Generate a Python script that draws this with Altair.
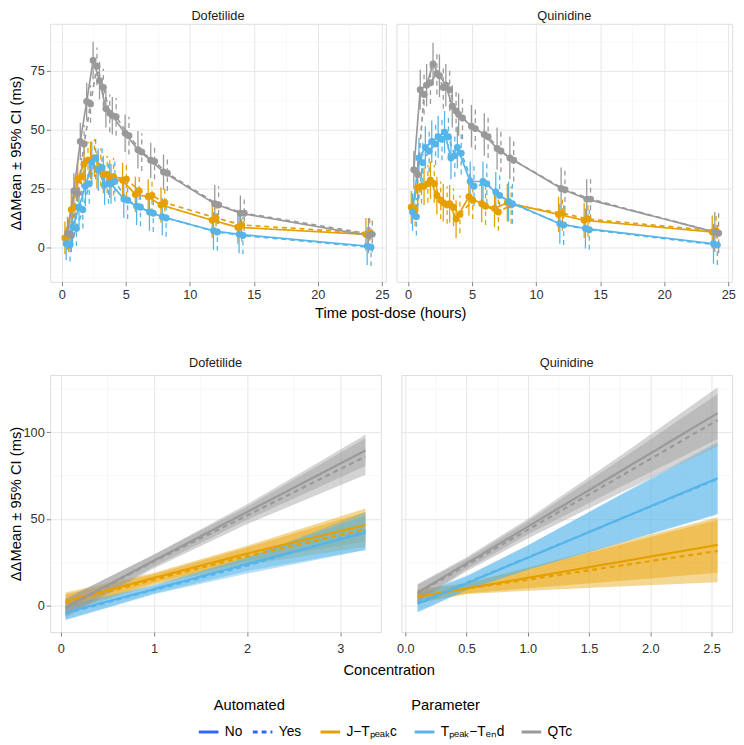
import altair as alt
import pandas as pd

FONT = "Liberation Sans"

# ---------------- categories ----------------
PARAMS = ["J−Tₚₑₐₖc", "Tₚₑₐₖ−Tₑₙd", "QTc"]
AUTOMATED = ["No", "Yes"]
COLORS = ["#E69F00", "#56B4E9", "#999999"]
DRUGS = ["Dofetilide", "Quinidine"]

# ---------------- time course (top row) ----------------
TIMES = [0.5, 1, 1.5, 2, 2.5, 3, 3.5, 4, 5, 6, 7, 8, 12, 14, 24]

DOF_J_NO = [4, 16, 29, 35.5, 37, 33, 31, 29, 28.5, 22.5, 21.5, 18, 11.5, 8.5, 5.5]
DOF_J_YES = [5, 17, 30, 37, 38, 34, 31, 30, 29, 24, 22, 19, 12.5, 9.5, 6]
DOF_J_CI = [7, 7.5, 8, 8, 8, 8, 8, 8, 7.5, 7.5, 7.5, 7.5, 7.5, 7, 7]
DOF_T_NO = [1.5, 8.5, 17, 26, 36, 33, 26.5, 27, 20.5, 17.5, 15, 13, 7, 5.5, 0.5]
DOF_T_YES = [1, 8, 16, 27, 38, 34, 27, 28, 20, 17, 14.5, 12.5, 6.5, 5, 0]
DOF_T_CI = [7, 7.5, 8, 8.5, 9, 9, 8.5, 8.5, 8, 8, 8, 8, 8, 8, 8]
DOF_Q_NO = [6, 24, 45, 62, 79.5, 71, 59, 56, 48.5, 41.5, 37, 32, 18.5, 14.5, 5]
DOF_Q_YES = [5, 23, 44, 61, 77, 68, 57, 55.5, 47.5, 40.5, 36.5, 31.5, 18, 14.5, 5.5]
DOF_Q_CI = [7, 7.5, 8, 8, 8, 8, 8, 8, 8, 8, 7.5, 7.5, 8, 7.5, 7.5]

QUI_J_NO = [17, 25.5, 26, 28.5, 22, 19, 18.5, 12, 21.5, 18.5, 16.5, 19, 14, 11.5, 6.5]
QUI_J_YES = [16, 26, 27, 27, 20, 18, 17, 14, 20, 17.5, 15, 18, 14.5, 12, 7]
QUI_J_CI = [7, 7.5, 8, 8, 8, 8, 8, 8, 8, 8, 8, 8, 7.5, 7.5, 7]
QUI_T_NO = [15, 38, 42.5, 45, 47, 49, 38, 42.5, 28, 28, 23.5, 19.5, 10, 8, 1.5]
QUI_T_YES = [13, 36, 41, 44, 46, 47, 39, 40, 26, 27, 22, 18.5, 9.5, 7.5, 1]
QUI_T_CI = [8, 8.5, 9, 9, 9, 9, 9, 9, 8.5, 8.5, 8.5, 8.5, 8.5, 8.5, 8.5]
QUI_Q_NO = [33, 67, 69, 78, 73, 69, 60, 56.5, 51.5, 48, 42, 38, 25, 20.5, 6.5]
QUI_Q_YES = [31, 65, 70, 74, 68, 67, 58, 55, 50.5, 47, 41, 37, 24.5, 20.5, 6]
QUI_Q_CI = [8, 8.5, 9, 9, 9, 9, 9, 9, 9, 9, 9, 9, 9, 8.5, 8.5]

# ---------------- concentration fits (bottom row) ----------------
DOF_CONC = [0.05, 1.0, 2.0, 3.27]
DOF_J_FIT_NO = [2.5, 16, 30, 46.5]
DOF_J_FIT_YES = [1.5, 15, 28.5, 44]
DOF_J_HW_NO = [5, 3, 4.5, 9.5]
DOF_J_HW_YES = [5, 3, 5, 10]
DOF_T_FIT_NO = [-4, 9.5, 24, 42]
DOF_T_FIT_YES = [-4.5, 9, 23, 43]
DOF_T_HW_NO = [4, 2.5, 4, 10]
DOF_T_HW_YES = [4, 2.5, 4.5, 11]
DOF_Q_FIT_NO = [-1, 26, 54, 89.5]
DOF_Q_FIT_YES = [-1.5, 25.5, 52, 86]
DOF_Q_HW_NO = [5, 3.5, 4.5, 9]
DOF_Q_HW_YES = [5.5, 4, 5, 10.5]

QUI_CONC = [0.1, 0.5, 1.0, 1.75, 2.55]
QUI_J_FIT_NO = [5, 9.9, 16, 25.2, 35]
QUI_J_FIT_YES = [5.5, 9.7, 15, 23, 31.5]
QUI_J_HW_NO = [4, 3, 6, 11, 16]
QUI_J_HW_YES = [4, 3, 6.5, 12, 18]
QUI_T_FIT_NO = [1, 12.8, 27.6, 49.8, 73.5]
QUI_T_FIT_YES = [1.5, 13.2, 27.8, 49.8, 73]
QUI_T_HW_NO = [5, 4, 7, 14, 21]
QUI_T_HW_YES = [5, 4, 7, 13.5, 20]
QUI_Q_FIT_NO = [7.5, 24.4, 45.5, 77.2, 111]
QUI_Q_FIT_YES = [7, 23.3, 43.7, 74.3, 107]
QUI_Q_HW_NO = [5, 3.5, 4.5, 9, 15]
QUI_Q_HW_YES = [5, 3.5, 5, 9.5, 15]

# dodge positions (position adjustment, No / Yes x Parameter)
DODGE = {("No", 0): -0.25, ("No", 1): -0.15, ("No", 2): -0.05,
         ("Yes", 0): 0.05, ("Yes", 1): 0.15, ("Yes", 2): 0.25}


def time_frame(series):
    rows = []
    for pi, (no, yes, ci) in enumerate(series):
        for auto, vals in (("No", no), ("Yes", yes)):
            for t, v, h in zip(TIMES, vals, ci):
                rows.append(dict(time=t, xd=t + DODGE[(auto, pi)], mean=v,
                                 lo=v - h, hi=v + h, param=PARAMS[pi], auto=auto))
    return pd.DataFrame(rows)


def conc_frame(conc, series):
    rows = []
    for pi, (fno, fyes, hno, hyes) in enumerate(series):
        for auto, fit, hw in (("No", fno, hno), ("Yes", fyes, hyes)):
            for c, v, h in zip(conc, fit, hw):
                rows.append(dict(conc=c, fit=v, lo=v - h, hi=v + h,
                                 param=PARAMS[pi], auto=auto, grp=f"{pi}{auto}"))
    return pd.DataFrame(rows)


dof_time = time_frame([(DOF_J_NO, DOF_J_YES, DOF_J_CI),
                       (DOF_T_NO, DOF_T_YES, DOF_T_CI),
                       (DOF_Q_NO, DOF_Q_YES, DOF_Q_CI)])
qui_time = time_frame([(QUI_J_NO, QUI_J_YES, QUI_J_CI),
                       (QUI_T_NO, QUI_T_YES, QUI_T_CI),
                       (QUI_Q_NO, QUI_Q_YES, QUI_Q_CI)])
dof_conc = conc_frame(DOF_CONC, [(DOF_J_FIT_NO, DOF_J_FIT_YES, DOF_J_HW_NO, DOF_J_HW_YES),
                                 (DOF_T_FIT_NO, DOF_T_FIT_YES, DOF_T_HW_NO, DOF_T_HW_YES),
                                 (DOF_Q_FIT_NO, DOF_Q_FIT_YES, DOF_Q_HW_NO, DOF_Q_HW_YES)])
qui_conc = conc_frame(QUI_CONC, [(QUI_J_FIT_NO, QUI_J_FIT_YES, QUI_J_HW_NO, QUI_J_HW_YES),
                                 (QUI_T_FIT_NO, QUI_T_FIT_YES, QUI_T_HW_NO, QUI_T_HW_YES),
                                 (QUI_Q_FIT_NO, QUI_Q_FIT_YES, QUI_Q_HW_NO, QUI_Q_HW_YES)])

# ---------------- styling ----------------
YTITLE = "ΔΔMean ± 95% CI (ms)"
MAJ = "#e6e6e6"
MINC = "#f3f3f3"
TICK = "#7f7f7f"
LABC = "#333333"

TOP_W, TOP_H = 342, 263
BOT_W, BOT_H = 337, 262


def mk_axis(values, test, labels=True, title=None, height=None, fmt=None, pad=2):
    kw = dict(values=values, domain=False, grid=True,
              gridColor={"condition": {"test": test, "value": MAJ}, "value": MINC},
              gridWidth={"condition": {"test": test, "value": 1}, "value": 0.6},
              labelFont=FONT, labelFontSize=13, labelColor=LABC,
              labelFlush=False, labelOverlap=False, labelPadding=pad,
              tickColor=TICK, tickSize=4, tickWidth=1)
    if labels:
        lab = "datum.label" if fmt is None else f"format(datum.value, '{fmt}')"
        kw.update(labelExpr=f"({test}) ? {lab} : ''",
                  tickOpacity={"condition": {"test": test, "value": 1}, "value": 0})
    else:
        kw.update(labels=False, ticks=False)
    if title:
        kw.update(title=title, titleFont=FONT, titleFontSize=15, titleFontWeight="normal",
                  titleColor="#000000", titleX=-27, titleY=height / 2, titleBaseline="bottom")
    else:
        kw.update(title=None)
    return alt.Axis(**kw)


param_legend = alt.Legend(title="Parameter", orient="none", legendX=274, legendY=687,
                          direction="horizontal", titleOrient="top", titleAnchor="middle",
                          symbolType="stroke", symbolStrokeWidth=3, symbolSize=400,
                          symbolOpacity=1, symbolDash=[1, 0],
                          labelFont=FONT, labelFontSize=14, labelColor="#000000",
                          titleFont=FONT, titleFontSize=15, titleFontWeight="normal",
                          titleColor="#000000", columnPadding=10, labelOffset=5, titlePadding=8)
auto_legend = alt.Legend(title="Automated", orient="none", legendX=150, legendY=687,
                         direction="horizontal", titleOrient="top", titleAnchor="middle",
                         symbolType="stroke", symbolStrokeWidth=3, symbolSize=400,
                         symbolStrokeColor="#3366FF", symbolOpacity=1,
                         labelFont=FONT, labelFontSize=14, labelColor="#000000",
                         titleFont=FONT, titleFontSize=15, titleFontWeight="normal",
                         titleColor="#000000", columnPadding=4, labelOffset=5, titlePadding=8)

stroke_scale = alt.Scale(domain=PARAMS, range=COLORS)
dash_scale = alt.Scale(domain=AUTOMATED, range=[[1, 0], [5, 4]])

TOP_X = [i * 2.5 for i in range(11)]
TOP_Y = [-12.5, 0, 12.5, 25, 37.5, 50, 62.5, 75, 87.5]
BOT_Y = [0, 25, 50, 75, 100, 125]


def panel_title(text, offset):
    return alt.TitleParams(text, fontSize=13, font=FONT, fontWeight="normal",
                           color="#1a1a1a", offset=offset)


def top_panel(df, title, left):
    xs = alt.Scale(domain=[-0.9, 25.3], nice=False, zero=False)
    ys = alt.Scale(domain=[-14.7, 95.1], nice=False, zero=False)
    xax = mk_axis(TOP_X, "datum.value % 5 === 0", pad=3)
    yax = mk_axis(TOP_Y, "datum.value % 25 === 0", labels=left,
                  title=YTITLE if left else None, height=TOP_H)
    x = alt.X("xd:Q", scale=xs, axis=xax)
    stroke = alt.Stroke("param:N", scale=stroke_scale, legend=param_legend)
    dash = alt.StrokeDash("auto:N", scale=dash_scale, legend=auto_legend)
    base = alt.Chart(df)
    err = base.mark_rule(strokeWidth=1.3).encode(
        x=x, y=alt.Y("lo:Q", scale=ys, axis=yax), y2="hi:Q", stroke=stroke, strokeDash=dash)
    line = base.mark_line(strokeWidth=1.7).encode(
        x=x, y=alt.Y("mean:Q", scale=ys, axis=yax), stroke=stroke, strokeDash=dash,
        order="xd:Q")
    pts = base.mark_circle(size=50, opacity=1).encode(
        x=x, y=alt.Y("mean:Q", scale=ys, axis=yax),
        fill=alt.Fill("param:N", scale=stroke_scale, legend=None))
    return alt.layer(err, line, pts).properties(width=TOP_W, height=TOP_H,
                                                title=panel_title(title, 1))


def bot_panel(df, title, left, xdom, xvals, test, fmt):
    xs = alt.Scale(domain=xdom, nice=False, zero=False)
    ys = alt.Scale(domain=[-15.3, 133], nice=False, zero=False)
    xax = mk_axis(xvals, test, fmt=fmt, pad=7)
    yax = mk_axis(BOT_Y, "datum.value % 50 === 0", labels=left,
                  title=YTITLE if left else None, height=BOT_H)
    x = alt.X("conc:Q", scale=xs, axis=xax)
    stroke = alt.Stroke("param:N", scale=stroke_scale, legend=param_legend)
    dash = alt.StrokeDash("auto:N", scale=dash_scale, legend=auto_legend)
    base = alt.Chart(df)
    band = base.mark_area(opacity=0.42).encode(
        x=x, y=alt.Y("lo:Q", scale=ys, axis=yax), y2="hi:Q",
        fill=alt.Fill("param:N", scale=stroke_scale, legend=None), detail="grp:N")
    line = base.mark_line(strokeWidth=2.2).encode(
        x=x, y=alt.Y("fit:Q", scale=ys, axis=yax), stroke=stroke, strokeDash=dash,
        order="conc:Q")
    return alt.layer(band, line).properties(width=BOT_W, height=BOT_H,
                                            title=panel_title(title, 5))


top = alt.hconcat(
    top_panel(dof_time, DRUGS[0], True),
    top_panel(qui_time, DRUGS[1], False),
    spacing=6,
    title=alt.TitleParams("Time post-dose (hours)", orient="bottom", anchor="middle",
                          fontSize=15, font=FONT, fontWeight="normal", color="#000000",
                          offset=4, dx=19),
)
bottom = alt.hconcat(
    bot_panel(dof_conc, DRUGS[0], True, [-0.115, 3.435], [0, 0.5, 1, 1.5, 2, 2.5, 3],
              "datum.value % 1 === 0", "d"),
    bot_panel(qui_conc, DRUGS[1], False, [-0.032, 2.668],
              [0, 0.25, 0.5, 0.75, 1, 1.25, 1.5, 1.75, 2, 2.25, 2.5],
              "datum.value % 0.5 === 0", ".1f"),
    spacing=14,
    title=alt.TitleParams("Concentration", orient="bottom", anchor="middle",
                          fontSize=15, font=FONT, fontWeight="normal", color="#000000",
                          offset=7, dx=19),
)

chart = alt.vconcat(top, bottom, spacing=36).properties(
    padding={"left": 0, "top": -6, "right": 0, "bottom": 0}
).configure_view(stroke="#8c8c8c", strokeWidth=1).configure(font=FONT)

chart.save("out.html", embed_options={"renderer": "svg", "actions": False})
